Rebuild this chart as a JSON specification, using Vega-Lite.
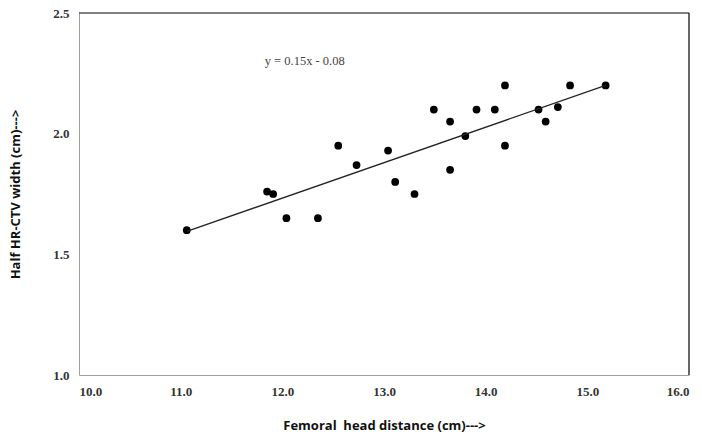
{
  "$schema": "https://vega.github.io/schema/vega-lite/v6.json",
  "width": 610,
  "height": 362,
  "autosize": {"type": "none"},
  "padding": {"left": 79, "top": 13, "right": 13, "bottom": 63},
  "background": "white",
  "config": {
    "view": {"stroke": null},
    "axis": {
      "grid": false,
      "ticks": false,
      "domainColor": "#a0a0a0",
      "domainWidth": 1
    }
  },
  "datasets": {
    "points": [
      {"femoral": 11.06, "width": 1.60},
      {"femoral": 11.85, "width": 1.76},
      {"femoral": 11.91, "width": 1.75},
      {"femoral": 12.04, "width": 1.65},
      {"femoral": 12.35, "width": 1.65},
      {"femoral": 12.55, "width": 1.95},
      {"femoral": 12.73, "width": 1.87},
      {"femoral": 13.04, "width": 1.93},
      {"femoral": 13.11, "width": 1.80},
      {"femoral": 13.30, "width": 1.75},
      {"femoral": 13.49, "width": 2.10},
      {"femoral": 13.65, "width": 2.05},
      {"femoral": 13.65, "width": 1.85},
      {"femoral": 13.80, "width": 1.99},
      {"femoral": 13.91, "width": 2.10},
      {"femoral": 14.09, "width": 2.10},
      {"femoral": 14.19, "width": 2.20},
      {"femoral": 14.19, "width": 1.95},
      {"femoral": 14.52, "width": 2.10},
      {"femoral": 14.59, "width": 2.05},
      {"femoral": 14.71, "width": 2.11},
      {"femoral": 14.83, "width": 2.20},
      {"femoral": 15.18, "width": 2.20}
    ],
    "trend": [
      {"femoral": 11.06, "width": 1.595},
      {"femoral": 15.18, "width": 2.20}
    ]
  },
  "layer": [
    {
      "data": {"name": "points"},
      "mark": {"type": "point", "filled": true, "color": "black", "opacity": 1, "size": 60},
      "encoding": {
        "x": {
          "field": "femoral", "type": "quantitative",
          "scale": {"domain": [10, 16], "nice": false, "zero": false},
          "axis": {
            "values": [10, 11, 12, 13, 14, 15, 16],
            "format": ".1f",
            "title": "Femoral\u00a0 head distance (cm)--->",
            "titlePadding": 21,
            "titleFont": "Open Sans",
            "titleFontSize": 13,
            "titleFontWeight": "bold",
            "titleColor": "#111111",
            "labelFont": "Liberation Serif",
            "labelFontSize": 13,
            "labelFontWeight": "bold",
            "labelColor": "#333333",
            "labelPadding": 10
          }
        },
        "y": {
          "field": "width", "type": "quantitative",
          "scale": {"domain": [1, 2.5], "nice": false, "zero": false},
          "axis": {
            "values": [1, 1.5, 2, 2.5],
            "format": ".1f",
            "title": "Half HR-CTV width (cm)--->",
            "titlePadding": 30,
            "titleFont": "Open Sans",
            "titleFontSize": 13,
            "titleFontWeight": "bold",
            "titleColor": "#111111",
            "labelFont": "Liberation Serif",
            "labelFontSize": 13,
            "labelFontWeight": "bold",
            "labelColor": "#333333",
            "labelPadding": 10
          }
        }
      }
    },
    {
      "data": {"name": "trend"},
      "mark": {"type": "line", "color": "#222222", "strokeWidth": 1.3},
      "encoding": {
        "x": {"field": "femoral", "type": "quantitative"},
        "y": {"field": "width", "type": "quantitative"}
      }
    },
    {
      "data": {"values": [{}]},
      "mark": {"type": "rule", "color": "black", "strokeWidth": 1.2},
      "encoding": {"y": {"datum": 2.5}}
    },
    {
      "data": {"values": [{}]},
      "mark": {"type": "rule", "color": "black", "strokeWidth": 1.2},
      "encoding": {"x": {"datum": 16}}
    },
    {
      "data": {"values": [{"label": "y = 0.15x - 0.08"}]},
      "mark": {"type": "text", "font": "Liberation Serif", "fontSize": 12.5, "color": "#444444", "align": "center", "baseline": "middle"},
      "encoding": {
        "x": {"datum": 12.22},
        "y": {"datum": 2.30},
        "text": {"field": "label"}
      }
    }
  ]
}
